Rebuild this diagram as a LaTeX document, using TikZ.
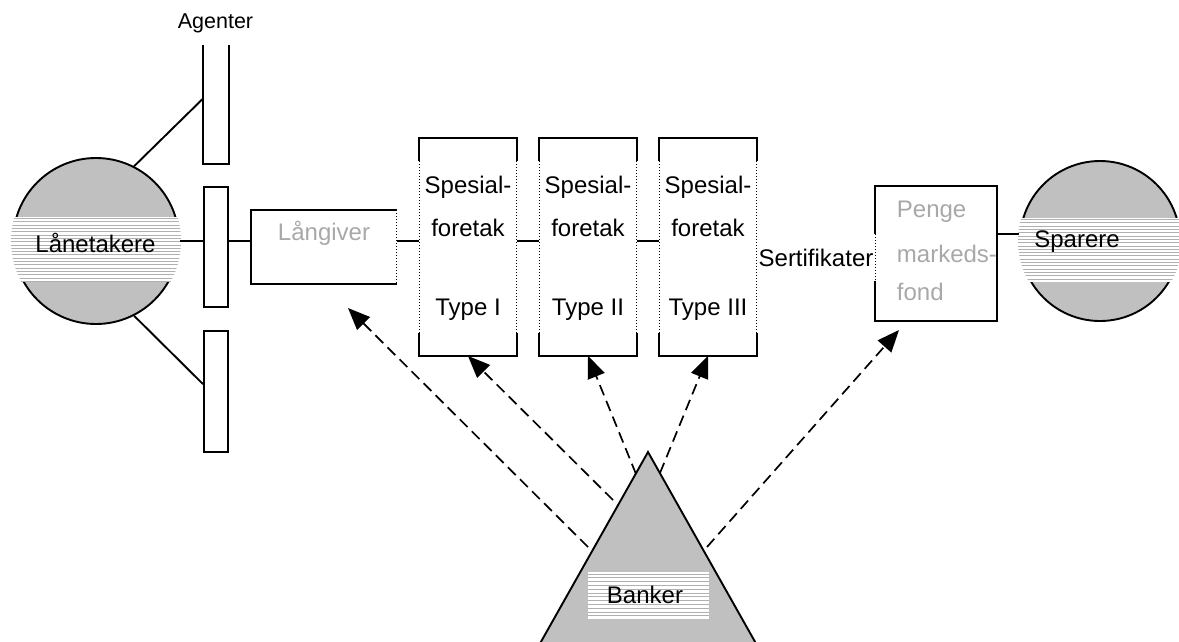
\documentclass[tikz,border=0pt]{standalone}
\usepackage{fontspec}
\setmainfont{Liberation Sans}
\usetikzlibrary{arrows.meta,calc}
\definecolor{silver}{HTML}{C0C0C0}
\definecolor{hatch}{HTML}{B0B0B0}
\definecolor{faded}{HTML}{A8A8A8}
\begin{document}
\begin{tikzpicture}[x=1pt,y=-1pt,line width=1.9pt,
  lbl/.style={font=\fontsize{24}{28}\selectfont,inner sep=0pt},
  fadedlbl/.style={lbl,text=faded},
  box/.style={rectangle,inner sep=0pt},
  dots/.style={line width=1pt,dash pattern=on 1pt off 2pt},
  darr/.style={line width=1.7pt,dash pattern=on 11pt off 6pt,-{Triangle[length=22pt,width=18pt]}},
  hline/.style={hatch,line width=0.7pt}]
\useasboundingbox (0,0) rectangle (1179,641);

% ---- Lånetakere circle
\node[circle,draw,fill=silver,minimum size=166pt,inner sep=0pt] (lan) at (96,241) {};
\begin{scope}
  \clip (96,241) circle (85pt);
  \fill[white] (0,217) rectangle (200,282);
  \foreach \yy in {218.5,221.8,...,282} \draw[hline] (0,\yy) -- (200,\yy);
\end{scope}
\node[lbl] (lantxt) at (95.5,243) {Lånetakere};

% ---- Sparere circle
\node[circle,draw,fill=silver,minimum size=160pt,inner sep=0pt] (spa) at (1100,241) {};
\begin{scope}
  \clip (1100,241) circle (82pt);
  \fill[white] (1000,218) rectangle (1200,282);
  \foreach \yy in {219.5,222.8,...,282} \draw[hline] (1000,\yy) -- (1200,\yy);
\end{scope}
\node[lbl] (spatxt) at (1077,242) {Sparere};

% ---- Agenter
\node[font=\fontsize{21.5}{25}\selectfont,inner sep=0pt] (agtxt) at (215.5,23) {Agenter};
\node[box,minimum width=24pt,minimum height=117pt] (ag1) at (216,104.5) {};
\draw (ag1.north west) -- (ag1.south west) -- (ag1.south east) -- (ag1.north east);
\node[box,draw,minimum width=24pt,minimum height=120pt] (ag2) at (216,247) {};
\node[box,draw,minimum width=24pt,minimum height=121pt] (ag3) at (216,391.5) {};

\draw (lan.63) -- ($(ag1.south west)!0.55!(ag1.north west)$);
\draw (lan.-63) -- ($(ag3.north west)!0.44!(ag3.south west)$);

% ---- Långiver
\node[box,minimum width=144pt,minimum height=72pt] (lang) at (324,247) {};
\draw (lang.north east) -- (lang.north west) -- (lang.south west) -- (lang.south east);
\draw[dots] (lang.north east) -- (lang.south east);
\node[fadedlbl] (langtxt) at (324,233) {Långiver};

% ---- Spesialforetak boxes
\node[box,minimum width=96pt,minimum height=216pt] (s1) at (468,247) {};
\node[box,minimum width=96pt,minimum height=216pt] (s2) at (588,247) {};
\node[box,minimum width=96pt,minimum height=216pt] (s3) at (708,247) {};
\foreach \s in {s1,s2,s3}{
  \draw ($(\s.north west)+(0,23)$) -- (\s.north west) -- (\s.north east) -- ($(\s.north east)+(0,23)$);
  \draw ($(\s.south west)-(0,23)$) -- (\s.south west) -- (\s.south east) -- ($(\s.south east)-(0,23)$);
  \draw[dots] ($(\s.north west)+(0,23)$) -- ($(\s.south west)-(0,23)$);
  \draw[dots] ($(\s.north east)+(0,23)$) -- ($(\s.south east)-(0,23)$);
}
\node[lbl] (s1a) at (468,187) {Spesial-};
\node[lbl] (s1b) at (468,228) {foretak};
\node[lbl] (s1c) at (468,310) {Type I};
\node[lbl] (s2a) at (588,187) {Spesial-};
\node[lbl] (s2b) at (588,228) {foretak};
\node[lbl] (s2c) at (588,310) {Type II};
\node[lbl] (s3a) at (708,187) {Spesial-};
\node[lbl] (s3b) at (708,228) {foretak};
\node[lbl] (s3c) at (708,310) {Type III};

% ---- horizontal chain
\draw (lan.east) -- (lan.east -| ag2.west);
\draw (ag2.east |- lan.east) -- (lan.east -| lang.west);
\draw (lang.east |- lan.east) -- (lan.east -| s1.west);
\draw (s1.east |- lan.east) -- (lan.east -| s2.west);
\draw (s2.east |- lan.east) -- (lan.east -| s3.west);

% ---- Sertifikater
\node[lbl] (sert) at (816,258) {Sertifikater};

% ---- Pengemarkedsfond
\node[box,minimum width=120pt,minimum height=133pt] (peng) at (936,253.5) {};
\draw ($(peng.north west)+(0,48)$) -- (peng.north west) -- (peng.north east) -- (peng.south east) -- (peng.south west) -- ($(peng.south west)-(0,40)$);
\draw[dots] ($(peng.north west)+(0,48)$) -- ($(peng.south west)-(0,40)$);
\node[fadedlbl,anchor=west] (p1) at (896,212) {Penge};
\node[fadedlbl,anchor=west] (p2) at (896,254) {markeds-};
\node[fadedlbl,anchor=west] (p3) at (896,292) {fond};
\coordinate (pe) at ($(peng.north east)+(0,48)$);
\draw (pe) -- (pe -| spa.west);

% ---- Banker triangle
\coordinate (apex) at (648,452);
\draw[fill=silver] (apex) -- (530.7,660) -- (765.3,660) -- cycle;
\node[box,fill=white,minimum width=121pt,minimum height=47pt] (bank) at (648.5,595.5) {};
\foreach \yy in {574,577.8,...,618} \draw[hline] (588,\yy) -- (709,\yy);
\node[lbl] (banktxt) at (645,595) {Banker};

% ---- dashed arrows
\coordinate (b1) at (588,547);
\coordinate (b2) at (613,500);
\coordinate (b3) at (636,474);
\coordinate (b4) at (660,473);
\coordinate (b5) at (707,547);
\coordinate (a1) at (348,308);
\coordinate (a5) at (899,330);
\draw[darr] (b1) -- (a1);
\draw[darr] (b2) -- (s1.south);
\draw[darr] (b3) -- (s2.south);
\draw[darr] (b4) -- (s3.south);
\draw[darr] (b5) -- (a5);
\end{tikzpicture}
\end{document}
